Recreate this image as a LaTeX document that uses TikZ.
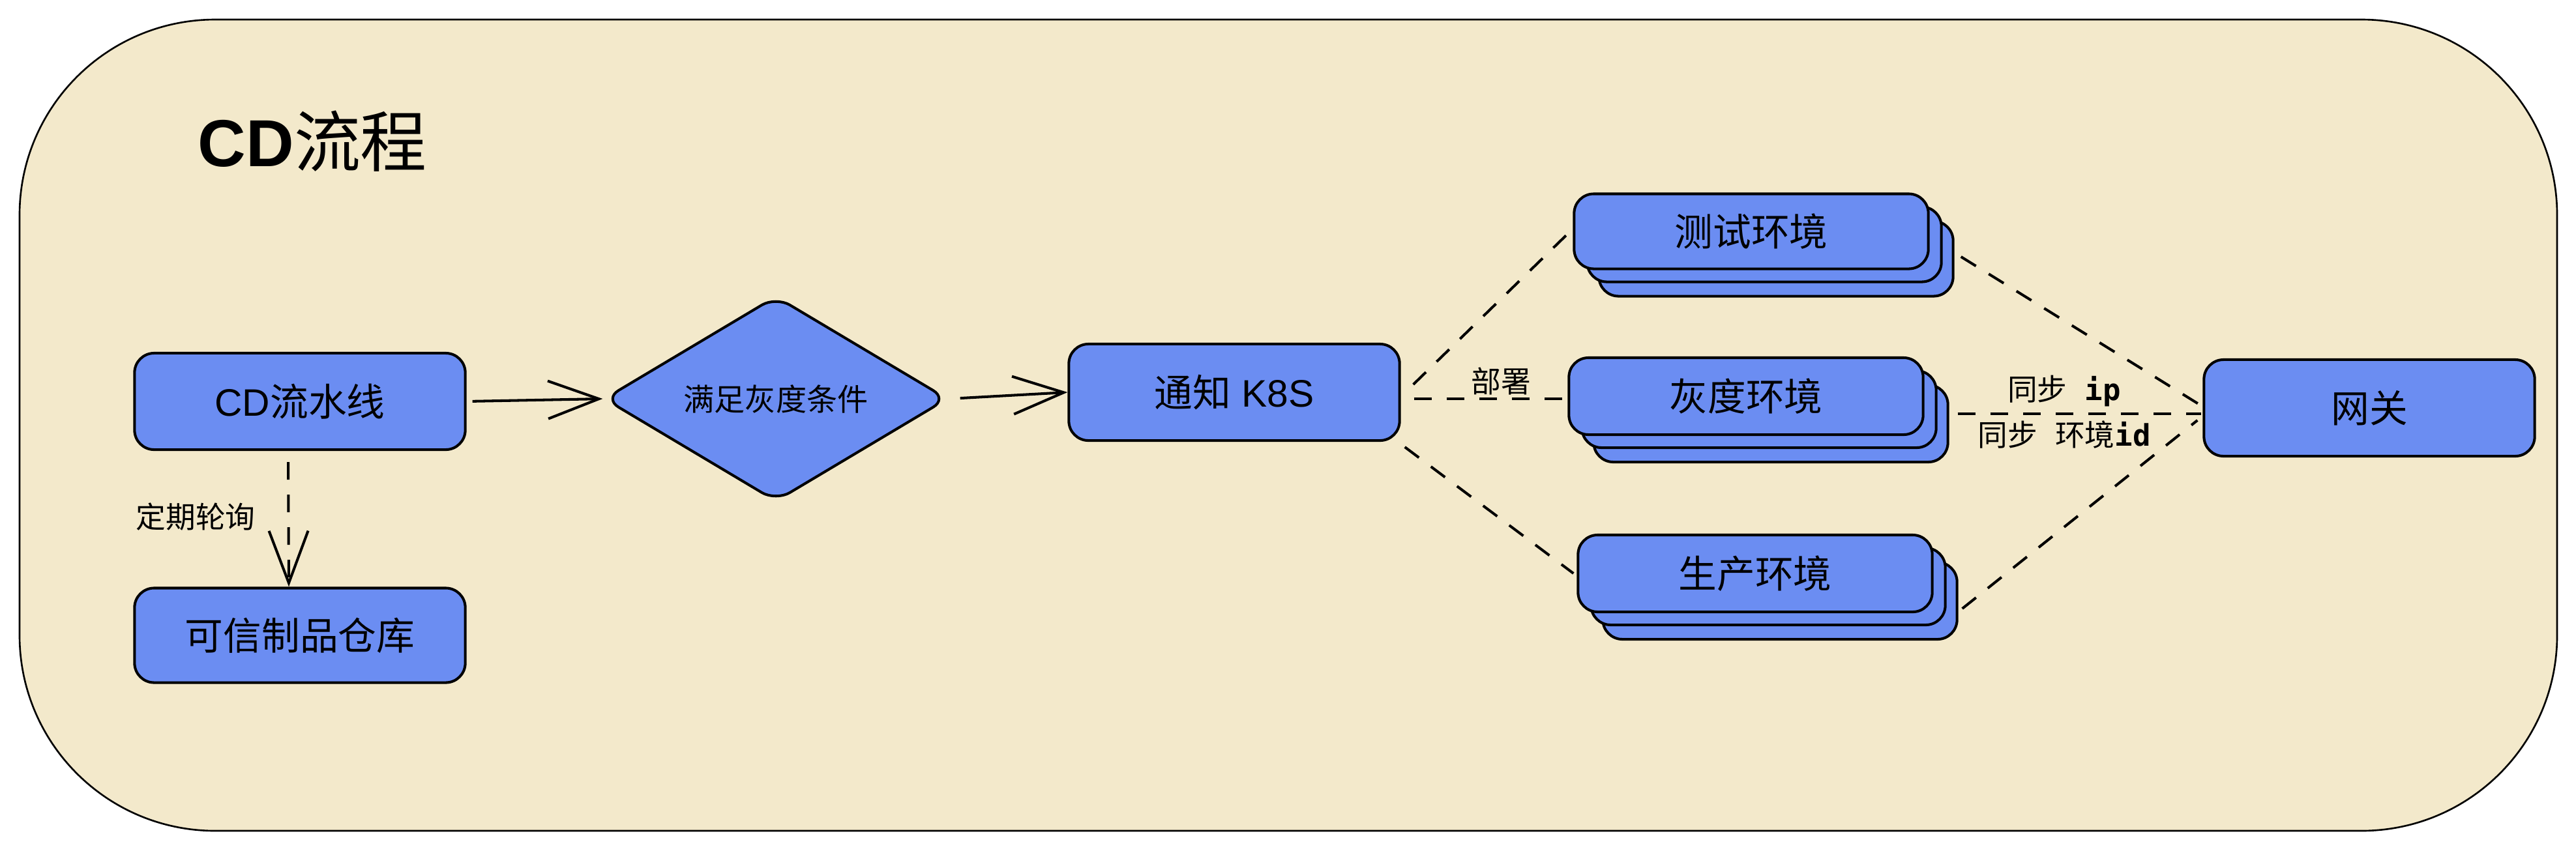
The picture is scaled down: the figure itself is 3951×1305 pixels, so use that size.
\documentclass[tikz,border=0pt]{standalone}
\usepackage{fontspec}
\usetikzlibrary{shapes.geometric,arrows.meta}
\setmainfont{Liberation Sans}
\newfontfamily\cjk{Noto Sans CJK SC}
\newfontfamily\dmono{DejaVu Sans Mono}
\newcommand{\zhtxt}[1]{{\cjk #1}}
\newcommand{\monotxt}[1]{{\dmono\bfseries #1}}
\definecolor{bgbeige}{HTML}{F3E9CB}
\definecolor{boxblue}{HTML}{6B8DF2}
\begin{document}
\begin{tikzpicture}[x=0.01cm,y=-0.01cm,
  box/.style={draw=black, fill=boxblue, line width=1.15pt, rounded corners=0.3cm,
    minimum width=5.07cm, minimum height=1.48cm, inner sep=0pt,
    font=\fontsize{16.7}{20}\selectfont},
  envbox/.style={box, minimum width=5.43cm, minimum height=1.15cm},
  decision/.style={diamond, draw=black, fill=boxblue, line width=1.15pt,
    rounded corners=0.25cm, aspect=1.67, minimum width=5.27cm, minimum height=3.15cm,
    inner sep=0pt, font=\fontsize{13.4}{16}\selectfont},
  lbl/.style={inner sep=1pt, font=\fontsize{13}{16}\selectfont},
  solidarrow/.style={draw=black, line width=1.15pt,
    -{Straight Barb[length=0.78cm,width=0.58cm,line width=1.15pt]}},
  dashline/.style={draw=black, line width=1.15pt, dash pattern=on 0.27cm off 0.23cm},
  dasharrow/.style={dashline,
    -{Straight Barb[length=0.8cm,width=0.6cm,line width=1.15pt]}}
]
\useasboundingbox (0,0) rectangle (3951,1305);
\fill[white] (0,0) rectangle (3951,1305);
% frame
\draw[fill=bgbeige, draw=black, line width=0.75pt, rounded corners=3cm]
  (30,30) rectangle (3922,1275);
% title
\node[anchor=west, inner sep=0pt, font=\fontsize{29}{34}\selectfont] (title) at (303,217)
  {{\bfseries CD}\zhtxt{流程}};
% main nodes
\node[box] (cd) at (460,616) {CD\zhtxt{流水线}};
\node[box, minimum height=1.45cm] (repo) at (460,975) {\zhtxt{可信制品仓库}};
\node[decision] (dm) at (1190,612) {\zhtxt{满足灰度条件}};
\node[box] (k8s) at (1893,602) {\zhtxt{通知} K8S};
% environment stacks
\node[envbox] (test3) at (2724,397) {};
\node[envbox] (test2) at (2706,375) {};
\node[envbox] (test) at (2686,355) {\zhtxt{测试环境}};
\node[envbox, minimum height=1.18cm] (gray3) at (2716,650) {};
\node[envbox, minimum height=1.18cm] (gray2) at (2698,628) {};
\node[envbox, minimum height=1.18cm] (gray) at (2678,608) {\zhtxt{灰度环境}};
\node[envbox, minimum height=1.18cm] (prod3) at (2730,922) {};
\node[envbox, minimum height=1.18cm] (prod2) at (2712,900) {};
\node[envbox, minimum height=1.18cm] (prod) at (2692,880) {\zhtxt{生产环境}};
\node[box] (gw) at (3634,626) {\zhtxt{网关}};
% connectors
\draw[solidarrow, shorten <=0.09cm] (cd.east) -- (dm.west);
\draw[solidarrow, shorten <=0.17cm] (dm.east) -- (k8s.west);
\draw[dasharrow, shorten <=0.17cm] ([xshift=-0.18cm]cd.south) -- ([xshift=-0.17cm]repo.north);
\node[lbl] (poll) at (300,793) {\zhtxt{定期轮询}};
\draw[dashline] ([shift={(19,-12)}]k8s.east) -- ([shift={(-7,3)}]test.west);
\draw[dashline] ([shift={(20,10)}]k8s.east) -- ([shift={(-8,4)}]gray.west);
\draw[dashline] ([shift={(6,8)}]k8s.south east) -- ([shift={(-5,0)}]prod.west);
\node[lbl] (deploy) at (2302,585) {\zhtxt{部署}};
\draw[dashline] ([shift={(10,-3)}]test3.east) -- ([shift={(-3,-4)}]gw.west);
\draw[dashline] ([shift={(13,-15)}]gray3.east) -- ([shift={(-2,9)}]gw.west);
\draw[dashline] ([shift={(6,12)}]prod3.east) -- ([shift={(-8,19)}]gw.west);
\node[lbl] (syncip) at (3166,600) {\zhtxt{同步}\monotxt{\ ip}};
\node[lbl] (syncid) at (3166,667) {\zhtxt{同步}\monotxt{\ }\zhtxt{环境}\monotxt{id}};
\end{tikzpicture}
\end{document}
